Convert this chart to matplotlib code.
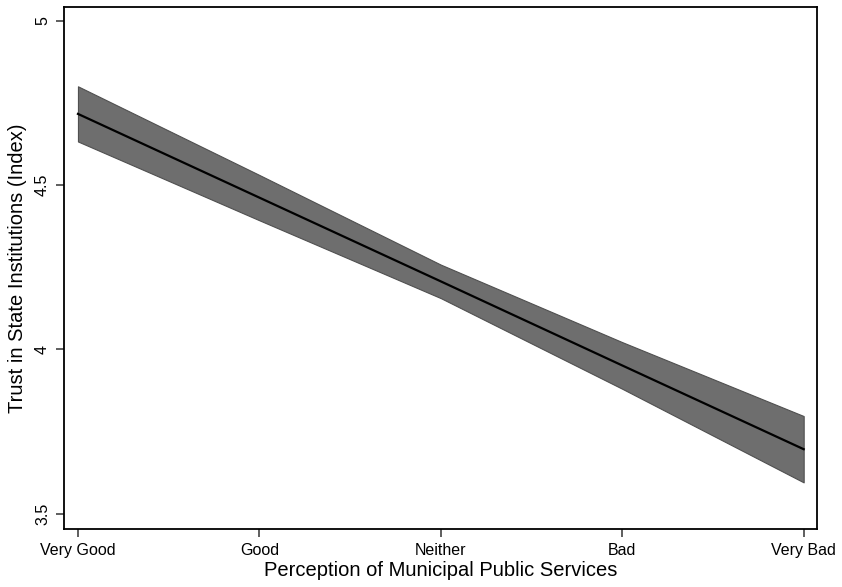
import numpy as np
from matplotlib import pyplot as plt

categories = ["Very Good", "Good", "Neither", "Bad", "Very Bad"]
fitted = [4.717, 4.462, 4.207, 3.951, 3.696]
ci_low = [4.633, 4.393, 4.156, 3.880, 3.595]
ci_high = [4.801, 4.531, 4.258, 4.022, 3.797]

plt.rcParams['font.family'] = ['Liberation Sans', 'DejaVu Sans']

fig = plt.figure(figsize=(8.42, 5.87), dpi=100)
ax = fig.add_axes([0.076, 0.0988, 0.894, 0.889])

x = np.arange(1, len(categories) + 1)
ax.fill_between(x, ci_low, ci_high, facecolor='#6e6e6e', edgecolor='#505050', linewidth=0.8)
ax.plot(x, fitted, color='black', linewidth=1.6)

ax.set_xlim(0.923, 5.072)
ax.set_ylim(3.453, 5.042)

ax.set_xticks(x)
ax.set_xticklabels(categories)
ax.set_yticks([3.5, 4, 4.5, 5])
ax.set_yticklabels(["3.5", "4", "4.5", "5"], rotation=90, va='center')

ax.tick_params(axis='both', labelsize=11.5, length=6, width=1.1, color='#333333')
ax.tick_params(axis='x', pad=4)
ax.tick_params(axis='y', pad=4)
for s in ax.spines.values():
    s.set_linewidth(1.3)

ax.set_xlabel("Perception of Municipal Public Services", fontsize=14.5, labelpad=2)
ax.set_ylabel("Trust in State Institutions (Index)", fontsize=14.5, labelpad=6)

plt.savefig('out.png')
